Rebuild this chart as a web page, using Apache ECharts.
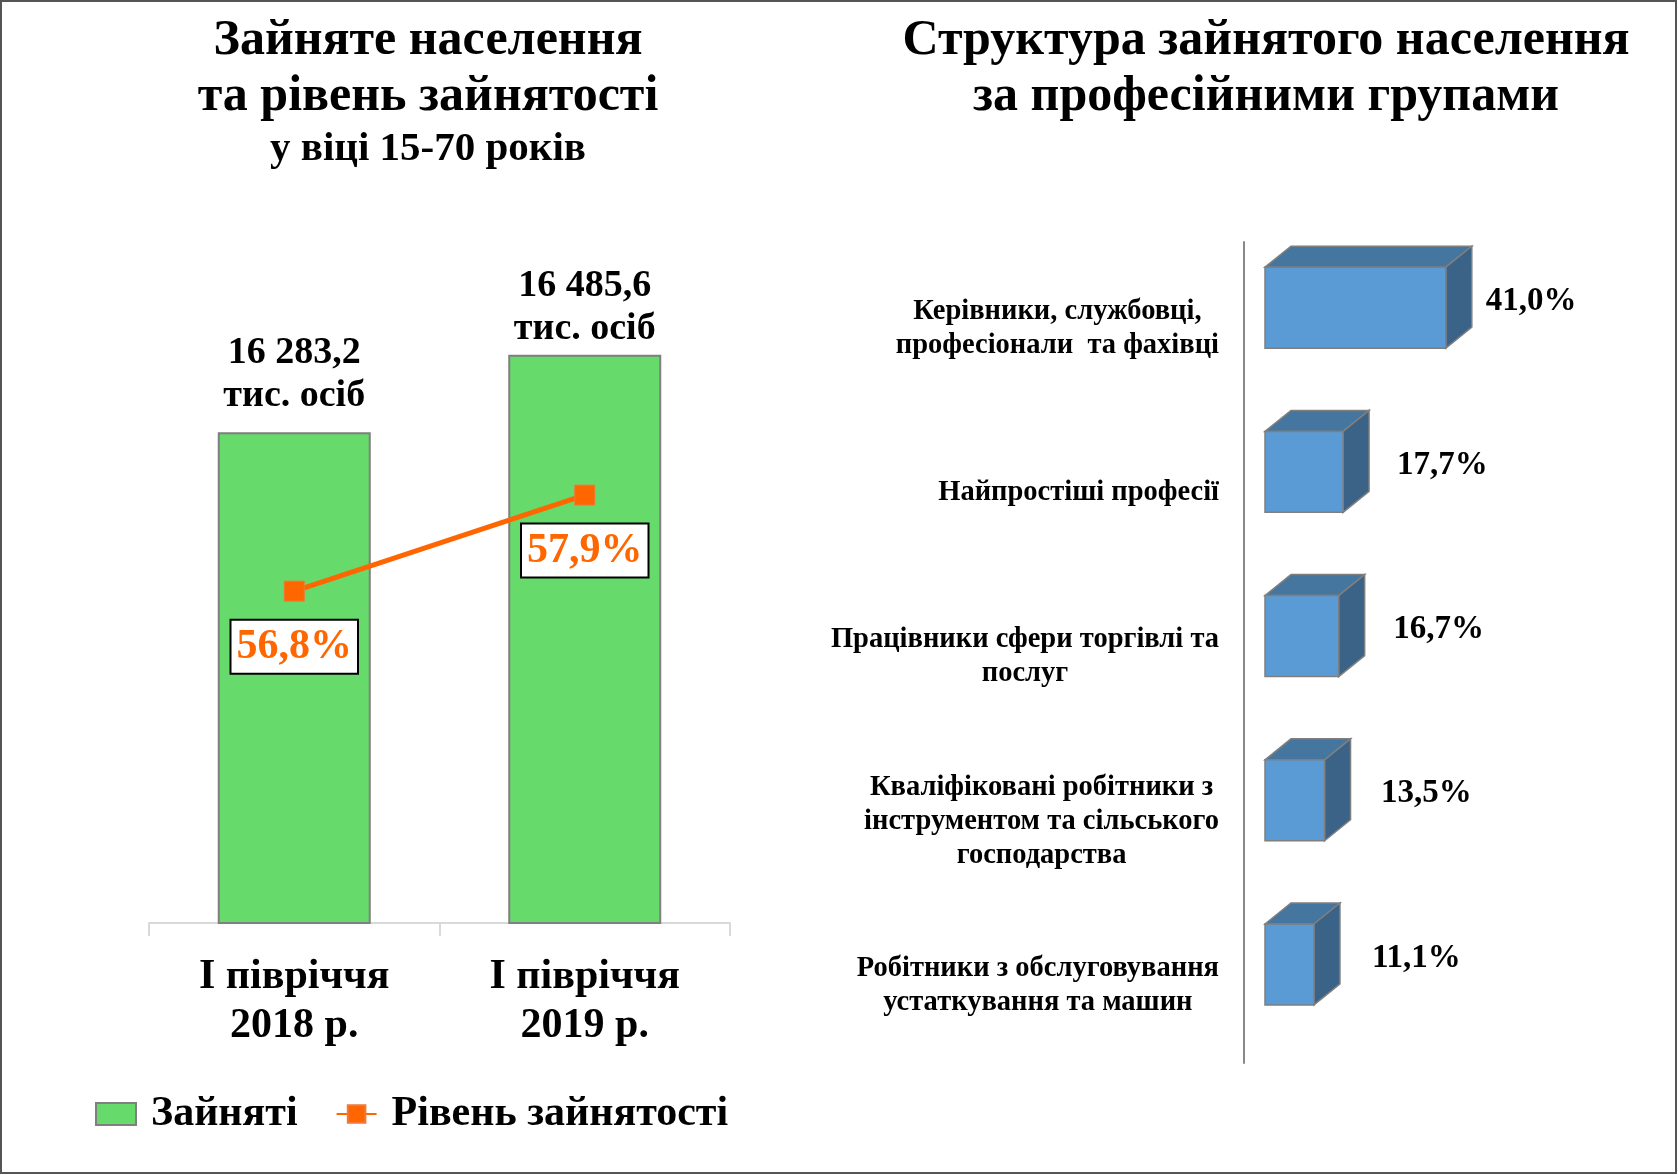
<!DOCTYPE html>
<html>
<head>
<meta charset="utf-8">
<title>Зайняте населення</title>
<script src="https://cdn.jsdelivr.net/npm/echarts@6/dist/echarts.min.js"></script>
<style>
    html, body {margin: 0; padding: 0; background: #fff;}
    #main {width: 1678px; height: 1175px;}
</style>
</head>
<body>
<div id="main"></div>
<script>
// дані ліва діаграма
var periods = ['І півріччя\n2018 р.', 'І півріччя\n2019 р.'];
var employed = [16283.2, 16485.6];          // тис. осіб
var employmentRate = [56.8, 57.9];           // %

// дані права діаграма
var groups = [
    'Керівники, службовці,\nпрофесіонали  та фахівці',
    'Найпростіші професії',
    'Працівники сфери торгівлі та\nпослуг',
    'Кваліфіковані робітники з\nінструментом та сільського\nгосподарства',
    'Робітники з обслуговування\nустаткування та машин'
];
var groupShares = [41.0, 17.7, 16.7, 13.5, 11.1];

var FONT = "'Liberation Serif', 'Times New Roman', serif";

function fmtNum(v) {
    var parts = v.toFixed(1).split('.');
    return parts[0].replace(/\B(?=(\d{3})+(?!\d))/g, ' ') + ',' + parts[1];
}
function fmtPct(v) {
    return v.toFixed(1).replace('.', ',') + '%';
}

// підписи над стовпцями в Excel стоять не однаково
var barLabelDist = [14, 4];

// 3D коробка для структури
function renderBox(params, api) {
    var v = api.value(0), i = api.value(1);
    var p0 = api.coord([0, i]), p1 = api.coord([v, i]);
    var band = api.size([0, 1])[1];
    var h = band * 0.493, dx = 26, dy = 21;
    var yTop = p0[1] - band * 0.1 - h / 2, yBot = yTop + h;
    var x0 = p0[0], x1 = p1[0];
    var stroke = {stroke: '#7F7F7F', lineWidth: 1.5};
    return {
        type: 'group',
        children: [
            {type: 'polygon', shape: {points: [[x0, yTop], [x0 + dx, yTop - dy], [x1 + dx, yTop - dy], [x1, yTop]]},
                style: Object.assign({fill: '#44769F'}, stroke)},
            {type: 'polygon', shape: {points: [[x1, yTop], [x1 + dx, yTop - dy], [x1 + dx, yBot - dy], [x1, yBot]]},
                style: Object.assign({fill: '#3A6387'}, stroke)},
            {type: 'rect', shape: {x: x0, y: yTop, width: x1 - x0, height: h},
                style: Object.assign({fill: '#5B9BD5'}, stroke)},
            {type: 'text', x: x1 + dx + 14 + (41 - v) * 0.6, y: (yTop - dy + yBot) / 2 + 4,
                style: {text: fmtPct(v), fontFamily: FONT, fontWeight: 'bold', fontSize: 33,
                    fill: '#000', textAlign: 'left', textVerticalAlign: 'middle'}}
        ]
    };
}

var chart = echarts.init(document.getElementById('main'));

chart.setOption({
    backgroundColor: '#fff',
    animation: false,
    textStyle: {fontFamily: FONT},
    title: [
        {
            text: 'Зайняте населення\nта рівень зайнятості',
            subtext: 'у віці 15-70 років',
            left: 423, top: 8, textAlign: 'center', itemGap: 2,
            textStyle: {fontFamily: FONT, fontSize: 50, fontWeight: 'bold', color: '#000', lineHeight: 56},
            subtextStyle: {fontFamily: FONT, fontSize: 41, fontWeight: 'bold', color: '#000', lineHeight: 44}
        },
        {
            text: 'Структура зайнятого населення\nза професійними групами',
            left: 1261, top: 8, textAlign: 'center',
            textStyle: {fontFamily: FONT, fontSize: 50, fontWeight: 'bold', color: '#000', lineHeight: 56}
        }
    ],
    legend: {
        data: [{name: 'Зайняті', icon: 'rect'}, {name: 'Рівень зайнятості'}],
        left: 90, top: 1088,
        itemWidth: 40, itemHeight: 22, itemGap: 38,
        textStyle: {fontFamily: FONT, fontSize: 42, fontWeight: 'bold', color: '#000', padding: [0, 0, 0, 10]}
    },
    grid: [
        {left: 149, width: 581, top: 158, bottom: 252},
        {left: 1265, width: 220.5, top: 242, bottom: 112}
    ],
    xAxis: [
        {
            type: 'category', gridIndex: 0, data: periods,
            axisLine: {lineStyle: {color: '#D9D9D9', width: 2}},
            axisTick: {show: true, length: 13, lineStyle: {color: '#D9D9D9', width: 2}},
            axisLabel: {fontFamily: FONT, fontSize: 42, fontWeight: 'bold', color: '#000', lineHeight: 49, margin: 30}
        },
        {type: 'value', gridIndex: 1, min: 0, max: 50, show: false}
    ],
    yAxis: [
        {type: 'value', gridIndex: 0, min: 15000, max: 17000, show: false},
        {type: 'value', gridIndex: 0, min: 53, max: 61.76, show: false},
        {
            type: 'category', gridIndex: 1, data: groups, inverse: true, offset: 21,
            axisLine: {show: true, onZero: false, lineStyle: {color: '#898989', width: 2}},
            axisTick: {show: false},
            axisLabel: {
                margin: 25, align: 'right', padding: [9, 0, 0, 0],
                formatter: function (val) {
                    return val.split('\n').map(function (s) { return '{a|' + s + '}'; }).join('\n');
                },
                rich: {a: {fontFamily: FONT, fontSize: 28.5, fontWeight: 'bold', color: '#000', lineHeight: 34, align: 'center'}}
            }
        }
    ],
    series: [
        {
            name: 'Зайняті', type: 'bar', xAxisIndex: 0, yAxisIndex: 0,
            data: employed.map(function (v, i) {
                return {value: v, label: {distance: barLabelDist[i]}};
            }),
            barWidth: 153,
            itemStyle: {color: '#66DA6A', borderColor: '#7F7F7F', borderWidth: 2},
            label: {
                show: true, position: 'top',
                fontFamily: FONT, fontSize: 38, fontWeight: 'bold', color: '#000', lineHeight: 43,
                formatter: function (p) { return fmtNum(p.value) + '\nтис. осіб'; }
            },
            z: 2
        },
        {
            name: 'Рівень зайнятості', type: 'line', xAxisIndex: 0, yAxisIndex: 1,
            data: employmentRate,
            symbol: 'rect', symbolSize: 20,
            lineStyle: {color: '#FF6600', width: 5},
            itemStyle: {color: '#FF6600', borderColor: '#F07A3A', borderWidth: 1},
            label: {
                show: true, position: 'bottom', distance: 19,
                fontFamily: FONT, fontSize: 42, fontWeight: 'bold', color: '#FF6600',
                backgroundColor: '#fff', borderColor: '#000', borderWidth: 2,
                padding: [3, 5, 1, 5], lineHeight: 48,
                formatter: function (p) { return fmtPct(p.value); }
            },
            z: 3
        },
        {
            name: 'Структура', type: 'custom', xAxisIndex: 1, yAxisIndex: 2,
            data: groupShares.map(function (v, i) { return [v, i]; }),
            encode: {x: 0, y: 1},
            renderItem: renderBox
        }
    ],
    graphic: [
        {type: 'rect', silent: true, z: 10,
            shape: {x: 1, y: 1, width: 1675, height: 1172},
            style: {fill: 'none', stroke: '#555', lineWidth: 2}}
    ]
});
</script>
</body>
</html>
